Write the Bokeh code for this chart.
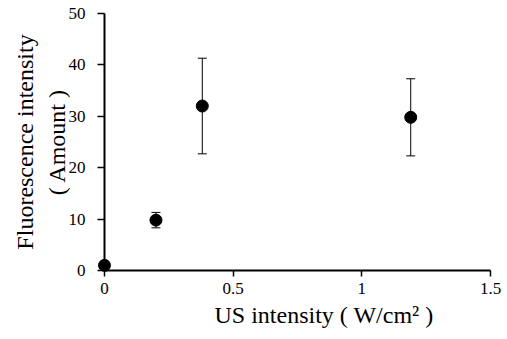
from bokeh.plotting import figure
from bokeh.models import Range1d, Whisker, ColumnDataSource, Title, FixedTicker
from bokeh.embed import file_html
from bokeh.resources import INLINE

# Data
us_intensity = [0.0, 0.2, 0.38, 1.19]
fluorescence = [1.0, 9.8, 32.0, 29.8]
error = [0.0, 1.5, 9.3, 7.5]
x_ticks = [0, 0.5, 1, 1.5]
y_ticks = [0, 10, 20, 30, 40, 50]

upper = [v + e for v, e in zip(fluorescence, error)]
lower = [v - e for v, e in zip(fluorescence, error)]
src = ColumnDataSource(dict(x=us_intensity, y=fluorescence, upper=upper, lower=lower))

FONT = "'Liberation Serif', 'Times New Roman', serif"

p = figure(width=507, height=339, output_backend="svg", toolbar_location=None,
           x_range=Range1d(0, 1.5), y_range=Range1d(0, 50),
           min_border_left=104, min_border_right=17, min_border_top=13, min_border_bottom=69)
p.outline_line_color = None
p.grid.visible = False
p.background_fill_color = "white"

w = Whisker(source=src, base="x", upper="upper", lower="lower",
            line_color="black", line_width=1)
w.upper_head.size = 9
w.lower_head.size = 9
w.upper_head.line_width = 1
w.lower_head.line_width = 1
p.add_layout(w)

p.scatter("x", "y", source=src, size=12, color="black", level="overlay")

for ax in (p.xaxis[0], p.yaxis[0]):
    ax.axis_line_width = 2
    ax.major_tick_line_width = 1.5
    ax.major_tick_in = 0
    ax.minor_tick_line_color = None
    ax.major_label_text_font = FONT
    ax.major_label_text_font_size = "17px"
    ax.major_label_text_color = "black"
    ax.axis_label_text_font = FONT
    ax.axis_label_text_font_size = "24px"
    ax.axis_label_text_font_style = "normal"
    ax.axis_label_text_color = "black"

p.xaxis[0].major_tick_out = 6
p.yaxis[0].major_tick_out = 7
p.xaxis[0].ticker = FixedTicker(ticks=x_ticks)
p.yaxis[0].ticker = FixedTicker(ticks=y_ticks)
p.xaxis[0].major_label_standoff = 6
p.yaxis[0].major_label_standoff = 12
p.yaxis[0].axis_label = "Fluorescence intensity\n( Amount )"
p.yaxis[0].axis_label_standoff = -4

xt = Title(text="US intensity ( W/cm² )", align="left", offset=110,
           text_font=FONT, text_font_size="24px", text_font_style="normal",
           text_color="black", standoff=7)
p.add_layout(xt, "below")

open("out.html", "w").write(file_html(p, INLINE))
